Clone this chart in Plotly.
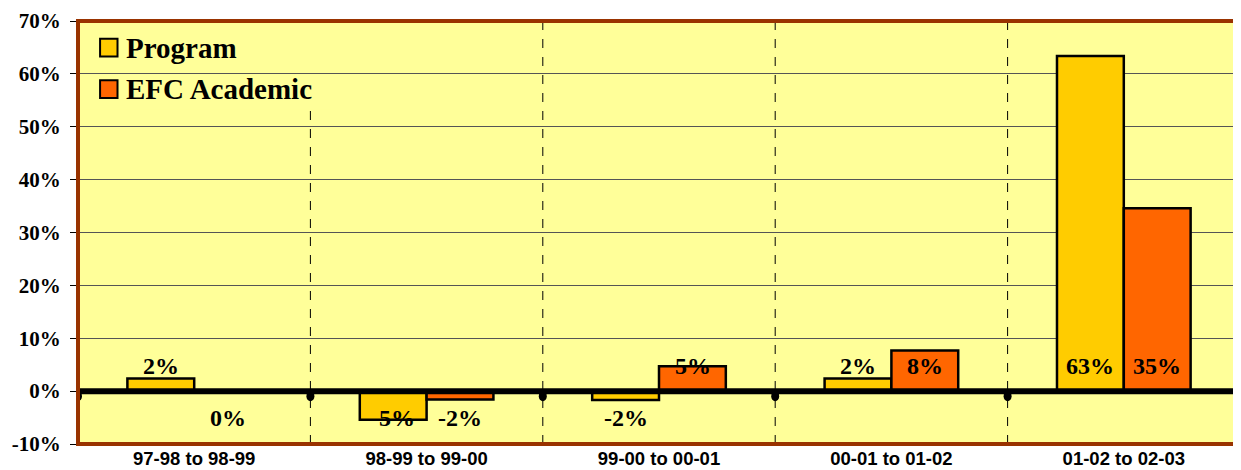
import plotly.graph_objects as go

categories = ["97-98 to 98-99", "98-99 to 99-00", "99-00 to 00-01", "00-01 to 01-02", "01-02 to 02-03"]
series_names = ["Program", "EFC Academic"]
program = [2.4, -5.4, -1.7, 2.4, 63.4]
efc = [0.0, -1.6, 4.7, 7.7, 34.6]
y_ticks = [-10, 0, 10, 20, 30, 40, 50, 60, 70]

colors = ["#FFCC00", "#FF6600"]
SERIF = "Liberation Serif, Times New Roman, serif"
SANS = "Liberation Sans, Arial, sans-serif"
BORDER = "#993300"
PLOTBG = "#FFFF99"

fig = go.Figure()
for name, vals, col in zip(series_names, [program, efc], colors):
    fig.add_trace(go.Bar(
        x=categories, y=vals, name=name,
        marker=dict(color=col, line=dict(color="black", width=2.5)),
        showlegend=False, hoverinfo="skip",
    ))

# data labels
annotations = []
for si, vals in enumerate([program, efc]):
    shift = -33.5 if si == 0 else 33.5
    for c, v in zip(categories, vals):
        annotations.append(dict(
            x=c, y=4.7 if v > 0 else -5.0, xref="x", yref="y",
            text=f"<b>{v:.0f}%</b>", showarrow=False, xshift=shift,
            font=dict(family=SERIF, size=24, color="black"),
        ))

shapes = []
n = len(categories)
for i in range(n - 1):
    shapes.append(dict(type="line", xref="x", yref="y domain", x0=i + 0.5, x1=i + 0.5,
                       y0=0, y1=1, line=dict(color="black", width=1, dash="dash"), layer="below"))

# manual legend background (covers gridlines)
shapes.append(dict(type="rect", xref="x domain", yref="y domain", x0=0.003, x1=0.218, y0=0.79, y1=0.995,
                   fillcolor=PLOTBG, line=dict(width=0), layer="below"))
leg_y = [0.937, 0.839]
for k, (name, col) in enumerate(zip(series_names, colors)):
    shapes.append(dict(type="rect", xref="x domain", yref="y domain",
                       x0=0.019, x1=0.034, y0=leg_y[k] - 0.021, y1=leg_y[k] + 0.021,
                       fillcolor=col, line=dict(color="black", width=2), layer="above"))
    annotations.append(dict(xref="x domain", yref="y domain", x=0.04, y=leg_y[k], xanchor="left",
                            yanchor="middle", text=f"<b>{name}</b>", showarrow=False,
                            font=dict(family=SERIF, size=29, color="black")))

shapes.append(dict(type="line", xref="x domain", yref="y", x0=0, x1=1, y0=0, y1=0,
                   line=dict(color="black", width=6), layer="above"))
for i in range(n + 1):
    shapes.append(dict(type="circle", xref="x", yref="y", xsizemode="pixel", ysizemode="pixel",
                       xanchor=i - 0.5, yanchor=0, x0=-4, x1=4, y0=-10, y1=0,
                       fillcolor="black", line=dict(width=0), layer="above"))
shapes.append(dict(type="rect", xref="paper", yref="paper", x0=0, x1=1, y0=0, y1=1,
                   line=dict(color=BORDER, width=4), layer="above"))

# page body has an 8px margin: figure placed at (8, 8)
fig.update_layout(
    width=1233, height=462,
    margin=dict(l=70, r=1, t=9, b=25),
    paper_bgcolor="white", plot_bgcolor=PLOTBG,
    barmode="group", bargap=0.425, bargroupgap=0,
    shapes=shapes, annotations=annotations,
    showlegend=False,
)
fig.update_xaxes(
    range=[-0.5, n - 0.5], showgrid=False, ticks="",
    tickvals=categories, ticktext=[f"<b>{c}</b>" for c in categories],
    tickfont=dict(family=SANS, size=18.5, color="black"),
    ticklabelstandoff=1, ticklabeloverflow="allow",
)
fig.update_yaxes(
    range=[-10, 70], tickvals=y_ticks, ticktext=[f"<b>{t}%</b>" for t in y_ticks],
    showgrid=True, gridcolor="#555555", gridwidth=1, zeroline=False,
    ticks="outside", ticklen=7, tickcolor="black",
    tickfont=dict(family=SERIF, size=21, color="black"),
    ticklabelstandoff=5, ticklabeloverflow="allow",
)
fig.write_html("out.html")
